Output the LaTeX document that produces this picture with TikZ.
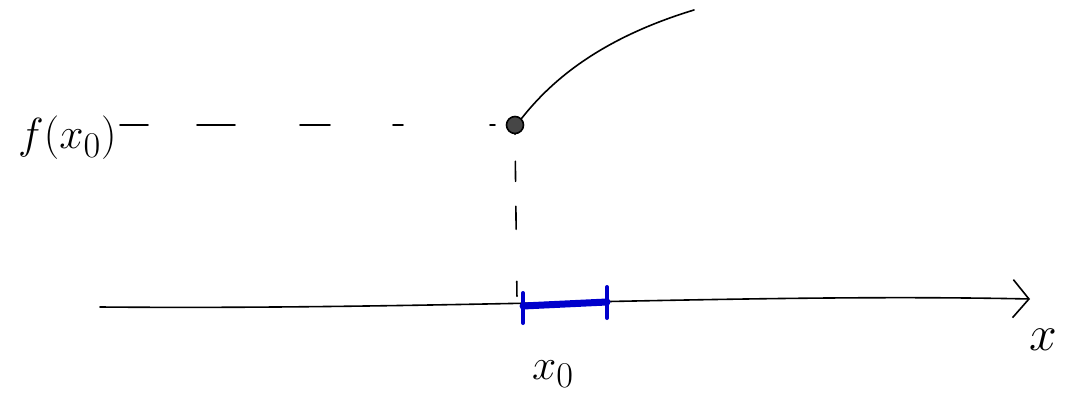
\documentclass[tikz,border=0pt]{standalone}
\usepackage{amsmath}
\usepackage{graphicx}
\usetikzlibrary{positioning,arrows.meta,calc}
\newcommand{\handtxt}[2][1.75]{\scalebox{#1}{\Huge #2}}

\begin{document}
\begin{tikzpicture}[x=1pt, y=-1pt, line cap=round, >={Straight Barb[length=16pt,width=38pt]},
  pen/.style={line width=1.6pt},
  hguide/.style={pen, dash pattern=on 28pt off 49pt on 38pt off 65pt on 30pt off 63pt on 10pt off 87pt on 5pt off 200pt},
  vguide/.style={pen, dash pattern=on 0pt off 27pt on 20pt off 25pt on 23pt off 52pt on 15pt off 200pt},
  band/.style={line width=7pt, draw=blue!80!black},
  tick/.style={line width=4pt, draw=blue!80!black}]
  \useasboundingbox (0,0) rectangle (1065,401);
  % axis
  \coordinate (ax0) at (100,307);
  \coordinate (ax1) at (1030,299);
  \draw[pen, ->] (ax0) .. controls (450,310) and (750,293) .. (ax1);
  \node (xlab) at (1043,340) {\handtxt[2]{$x$}};
  % point and graph
  \node[circle, draw, pen, fill=gray!55!black, minimum size=17pt, inner sep=0pt] (pt) at (515,125) {};
  \coordinate (top) at (694,10);
  \draw[pen] (pt.north east) .. controls (548,85) and (595,40) .. (top);
  \node[anchor=east] (fx) at (120,138) {\handtxt{$f(x_0)$}};
  \draw[hguide] (fx.east |- pt) -- (pt.west);
  \coordinate (foot) at (517,300);
  \draw[vguide] (pt.south) -- (foot);
  % interval around x0
  \coordinate (a) at (523,306);
  \coordinate (b) at (607,302);
  \draw[band] (a) -- (b);
  \draw[tick] ($(a)+(0,-13)$) -- ($(a)+(0,17)$);
  \draw[tick] ($(b)+(0,-15)$) -- ($(b)+(0,16)$);
  \node (x0lab) at (553,374) {\handtxt{$x_0$}};
\end{tikzpicture}
\end{document}
